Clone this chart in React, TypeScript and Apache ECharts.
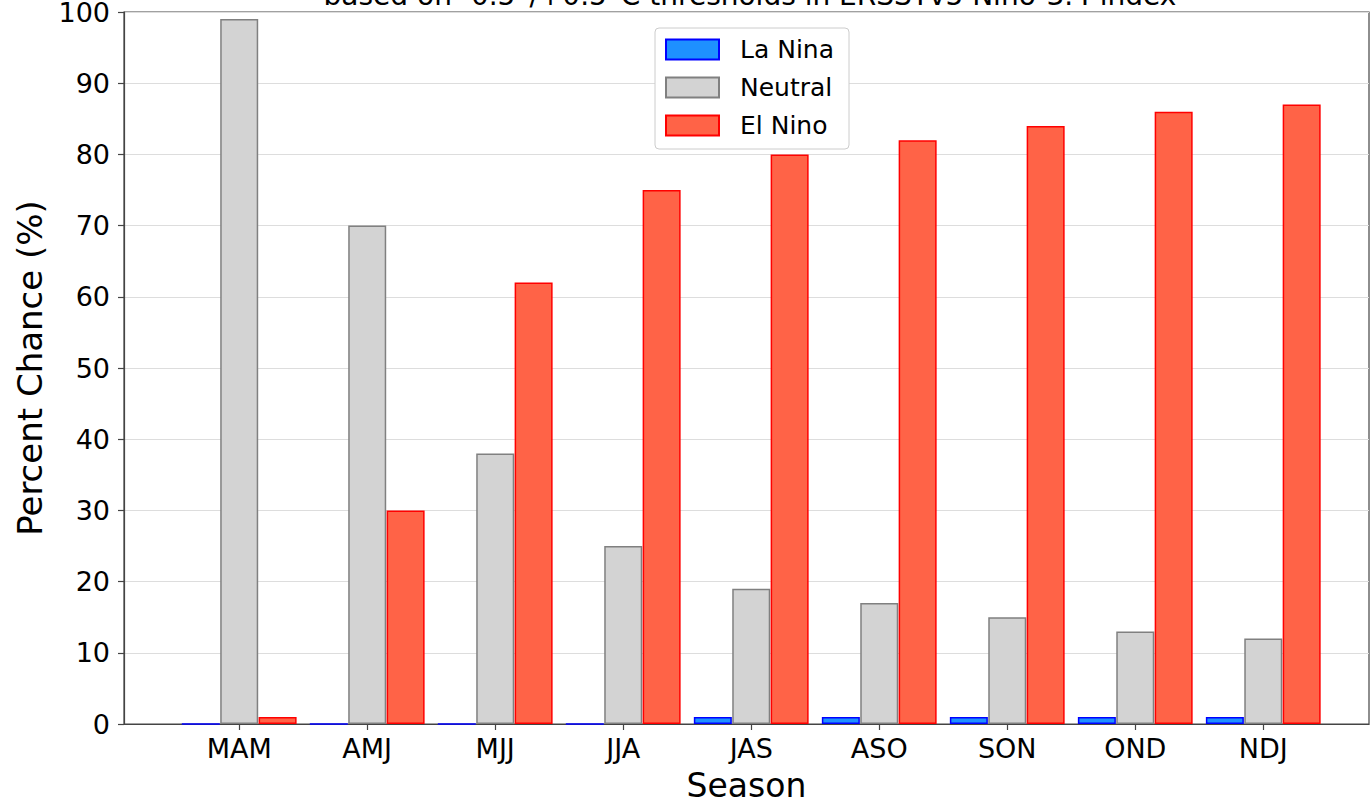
import React, { useEffect, useRef } from "react";
import * as echarts from "echarts";

const seasons = ["MAM", "AMJ", "MJJ", "JJA", "JAS", "ASO", "SON", "OND", "NDJ"];
const laNina = [0, 0, 0, 0, 1, 1, 1, 1, 1];
const neutral = [99, 70, 38, 25, 19, 17, 15, 13, 12];
const elNino = [1, 30, 62, 75, 80, 82, 84, 86, 87];
const yTicks = [0, 10, 20, 30, 40, 50, 60, 70, 80, 90, 100];
const subtitle = "based on -0.5°/+0.5°C thresholds in ERSSTv5 Niño-3.4 index";

const FONT = "DejaVu Sans";
const BAR_OFFSET = 0.3;

export default function App() {
  const ref = useRef<HTMLDivElement>(null);
  useEffect(() => {
    if (!ref.current) return;
    const chart = echarts.init(ref.current, undefined, { renderer: "svg" });
    const idx = seasons.map((_, i) => i);
    const mk = (vals: number[], off: number) => vals.map((v, i) => [i + off, v]);
    const barCommon = {
      type: "bar" as const,
      barWidth: 38,
      barGap: "-100%",
      z: 3,
    };
    chart.setOption({
      animation: false,
      textStyle: { fontFamily: FONT, color: "#000" },
      grid: {
        left: 124,
        top: 12,
        width: 1245,
        bottom: 79,
        containLabel: false,
        outerBoundsMode: "none",
        show: true,
        borderColor: "#444",
        borderWidth: 1.2,
        backgroundColor: "transparent",
      },
      graphic: [
        {
          type: "text",
          x: 750,
          y: 9,
          silent: true,
          style: {
            text: subtitle,
            x: 0,
            y: 0,
            fontSize: 28,
            fontFamily: FONT,
            fill: "#000",
            textAlign: "center",
            verticalAlign: "bottom",
          },
        },
      ],
      legend: {
        orient: "vertical",
        left: 655,
        top: 28,
        padding: [9, 15, 11, 10],
        itemWidth: 53,
        itemHeight: 20,
        itemGap: 13,
        backgroundColor: "#fff",
        borderColor: "#cccccc",
        borderWidth: 1,
        borderRadius: 4,
        icon: "rect",
        textStyle: {
          fontSize: 25,
          fontFamily: FONT,
          color: "#000",
          lineHeight: 20,
          padding: [0, 0, 0, 16],
        },
        data: ["La Nina", "Neutral", "El Nino"],
      },
      xAxis: {
        type: "value",
        min: -0.9,
        max: 8.826,
        name: "Season",
        nameLocation: "middle",
        nameGap: 45,
        nameTextStyle: { fontSize: 33, fontFamily: FONT, color: "#000" },
        splitLine: { show: false },
        axisLine: { show: true, onZero: false, lineStyle: { color: "#444", width: 1.2 } },
        axisTick: {
          show: true,
          inside: false,
          length: 6,
          customValues: idx,
          lineStyle: { color: "#444", width: 1.2 },
        },
        axisLabel: {
          customValues: idx,
          fontSize: 27,
          fontFamily: FONT,
          color: "#000",
          margin: 11,
          formatter: (v: number) => seasons[Math.round(v)] ?? "",
        },
      },
      yAxis: {
        type: "value",
        min: 0,
        max: 100,
        interval: 10,
        name: "Percent Chance (%)",
        nameLocation: "middle",
        nameGap: 77,
        nameTextStyle: { fontSize: 34, fontFamily: FONT, color: "#000" },
        axisLine: { show: true, onZero: false, lineStyle: { color: "#444", width: 1.2 } },
        axisTick: {
          show: true,
          inside: false,
          length: 6,
          lineStyle: { color: "#444", width: 1.2 },
        },
        axisLabel: {
          fontSize: 27,
          fontFamily: FONT,
          color: "#000",
          margin: 14,
          customValues: yTicks,
        },
        splitLine: { show: true, lineStyle: { color: "#dddddd", width: 1.2 } },
      },
      series: [
        {
          ...barCommon,
          name: "La Nina",
          data: mk(laNina, -BAR_OFFSET),
          itemStyle: { color: "#1E90FF", borderColor: "#0000FF", borderWidth: 1.5 },
        },
        {
          ...barCommon,
          name: "Neutral",
          data: mk(neutral, 0),
          itemStyle: { color: "#D3D3D3", borderColor: "#808080", borderWidth: 1.5 },
        },
        {
          ...barCommon,
          name: "El Nino",
          data: mk(elNino, BAR_OFFSET),
          itemStyle: { color: "#FF6347", borderColor: "#FF0000", borderWidth: 1.5 },
        },
      ],
    });
    return () => chart.dispose();
  }, []);
  return (
    <div
      ref={ref}
      style={{ position: "absolute", left: 0, top: 0, width: 1371, height: 803 }}
    />
  );
}
